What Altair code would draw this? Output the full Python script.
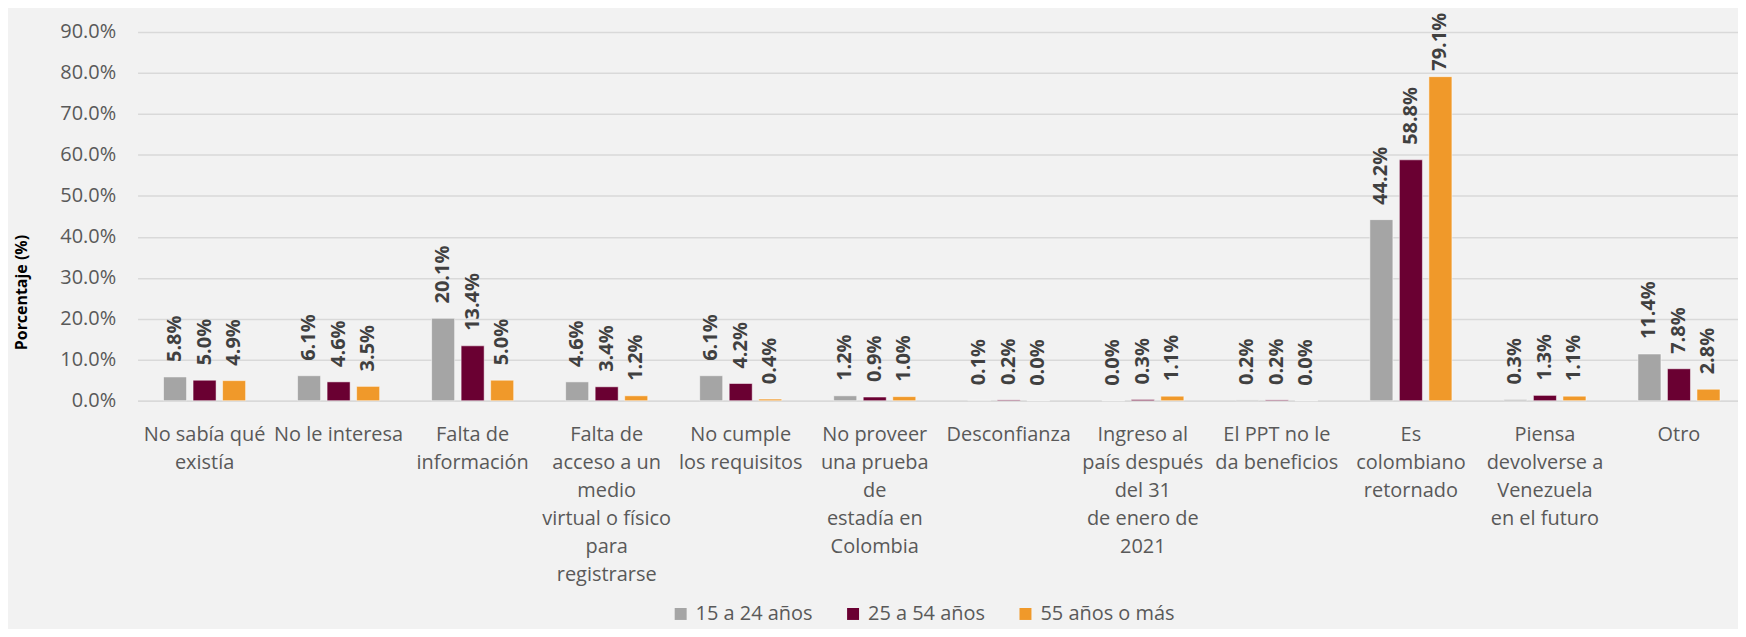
import altair as alt
import pandas as pd

categories = [
    "No sabía qué\nexistía",
    "No le interesa",
    "Falta de\ninformación",
    "Falta de\nacceso a un\nmedio\nvirtual o físico\npara\nregistrarse",
    "No cumple\nlos requisitos",
    "No proveer\nuna prueba\nde\nestadía en\nColombia",
    "Desconfianza",
    "Ingreso al\npaís después\ndel 31\nde enero de\n2021",
    "El PPT no le\nda beneficios",
    "Es\ncolombiano\nretornado",
    "Piensa\ndevolverse a\nVenezuela\nen el futuro",
    "Otro",
]
series = ["15 a 24 años", "25 a 54 años", "55 años o más"]
v_15_24 = [5.8, 6.1, 20.1, 4.6, 6.1, 1.2, 0.1, 0.0, 0.2, 44.2, 0.3, 11.4]
v_25_54 = [5.0, 4.6, 13.4, 3.4, 4.2, 0.9, 0.2, 0.3, 0.2, 58.8, 1.3, 7.8]
v_55_mas = [4.9, 3.5, 5.0, 1.2, 0.4, 1.0, 0.0, 1.1, 0.0, 79.1, 1.1, 2.8]
colors = ["#A5A5A5", "#6A0032", "#F0992A"]
y_ticks = [0, 10, 20, 30, 40, 50, 60, 70, 80, 90]

rows = []
for s, vals in zip(series, [v_15_24, v_25_54, v_55_mas]):
    for c, v in zip(categories, vals):
        rows.append({"cat": c, "s": s, "v": v})
df = pd.DataFrame(rows)

FONT = "Open Sans"
yscale = alt.Scale(domain=[0, 90], nice=False)
yaxis = alt.Axis(
    values=y_ticks,
    labelExpr="format(datum.value, '.1f') + '%'",
    title="Porcentaje (%)",
    titleFontSize=16,
    titleFontWeight="bold",
    titleColor="#000000",
    titleAngle=270,
    titleAlign="center",
    titleBaseline="middle",
    titleX=-116,
    titleY=261,
    labelFontSize=20,
    labelColor="#595959",
    labelPadding=22,
    ticks=False,
    tickSize=0,
    domain=False,
    gridColor="#D9D9D9",
    gridWidth=1.5,
)

base = alt.Chart(df).encode(
    x=alt.X(
        "cat:N",
        sort=categories,
        scale=alt.Scale(range=[0, 1614], paddingInner=0, paddingOuter=0),
        axis=alt.Axis(
            title=None,
            labelExpr="split(datum.label, '\\n')",
            labelAngle=0,
            labelFontSize=20,
            labelColor="#595959",
            labelLineHeight=28,
            labelBaseline="top",
            labelPadding=24,
            labelLimit=0,
            labelOverlap=False,
            ticks=False,
            tickSize=0,
            domainColor="#D9D9D9",
            domainWidth=1.5,
            grid=False,
        ),
    ),
    xOffset=alt.XOffset(
        "s:N", sort=series, scale=alt.Scale(paddingInner=0.22, paddingOuter=0.88)
    ),
)

bars = base.mark_bar(stroke="#FFFFFF", strokeWidth=1, strokeOpacity=0.5).encode(
    y=alt.Y("v:Q", scale=yscale, axis=yaxis),
    color=alt.Color(
        "s:N",
        sort=series,
        scale=alt.Scale(domain=series, range=colors),
        legend=alt.Legend(
            orient="none",
            legendX=535,
            legendY=574,
            direction="horizontal",
            title=None,
            symbolType="square",
            symbolSize=144,
            symbolStrokeWidth=0,
            symbolOpacity=1,
            labelFontSize=20,
            labelColor="#595959",
            labelOffset=5,
            columnPadding=30,
            padding=0,
        ),
    ),
)

text = base.transform_calculate(
    ylab="min(datum.v, 76.9)", lab="format(datum.v, '.1f') + '%'"
).mark_text(
    angle=270,
    align="left",
    baseline="middle",
    dx=15,
    fontSize=20,
    fontWeight="bold",
    color="#404040",
    font=FONT,
).encode(
    y=alt.Y("ylab:Q", scale=yscale, axis=yaxis),
    text="lab:N",
)

chart = (
    alt.layer(bars, text)
    .properties(
        width=1606,
        height=370,
        background="#F2F2F2",
        autosize=alt.AutoSizeParams(type="none"),
        padding={"left": 130, "top": 23, "right": 0, "bottom": 228},
    )
    .configure(font=FONT)
    .configure_view(stroke=None)
)

chart.save("out.html", embed_options={"renderer": "svg", "actions": False})
